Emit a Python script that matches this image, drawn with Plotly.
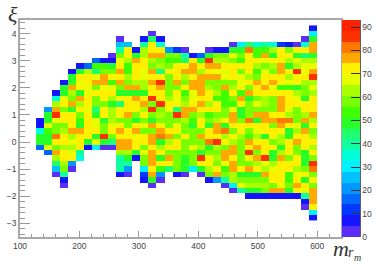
import plotly.graph_objects as go

# Bin layout of the histogram
x_first_edge = 127.0
x_bin = 13.5
y_top_center = 4.2
y_bin = 0.2
n_cols = 35

# Values per row, top row first: (first column, values)
r00 = [(34, [8])]
r01 = [(14, [3]), (34, [28])]
r02 = [(10, [3]), (13, [8, 45, 8]), (33, [3, 50])]
r03 = [(10, [25, 25]), (13, [38, 72, 33]), (24, [3, 30, 43, 33, 38, 36, 10, 8, 3, 33, 77])]
r04 = [(10, [38, 70]), (12, [8, 64, 72, 72, 20, 10, 3]), (21, [3, 8, 8, 50, 50, 80, 52, 55, 63, 74, 60, 70, 70, 77])]
r05 = [(9, [3, 60, 72, 48, 65, 76, 79, 58, 58, 40, 8, 18, 47, 58, 58, 68, 58, 72, 55, 76, 50, 70, 72, 50, 42, 48])]
r06 = [(7, [16, 8, 8, 68, 62, 78, 70, 62, 58, 55, 52, 45, 72, 47, 85, 65, 62, 58, 52, 70, 70, 68, 72, 72, 65, 68, 62, 62])]
r07 = [(5, [8, 16, 55, 55, 47, 70, 52, 72, 72, 60, 62, 60, 70, 72, 76, 70, 77, 79, 72, 72, 72, 70, 65, 60, 62, 76, 48, 62, 66, 66])]
r08 = [(4, [8, 47, 62, 42, 60, 57, 78, 52, 70, 66, 75, 42, 72, 70, 76, 76, 62, 70, 68, 68, 70, 58, 72, 55, 68, 60, 76, 70, 85, 68, 76])]
r09 = [(4, [47, 70, 70, 68, 79, 72, 72, 62, 72, 66, 72, 70, 60, 70, 62, 72, 78, 76, 76, 68, 72, 68, 62, 60, 72, 70, 70, 62, 70, 70, 85])]
r10 = [(3, [8, 50, 68, 70, 76, 76, 55, 76, 58, 62, 65, 76, 84, 58, 78, 60, 76, 76, 58, 58, 58, 60, 68, 72, 76, 72, 75, 70, 68, 72, 62, 62])]
r11 = [(3, [47, 76, 70, 68, 58, 68, 68, 60, 76, 76, 62, 70, 76, 60, 60, 70, 79, 77, 62, 60, 76, 63, 70, 60, 70, 75, 66, 52, 55, 50, 60, 68])]
r12 = [(2, [8, 47, 64, 48, 68, 70, 70, 70, 47, 50, 48, 48, 72, 70, 58, 70, 55, 66, 76, 70, 62, 55, 70, 55, 76, 70, 70, 70, 70, 70, 62, 58, 62])]
r13 = [(2, [33, 66, 60, 76, 70, 58, 70, 62, 70, 72, 76, 70, 87, 72, 62, 68, 60, 68, 72, 70, 55, 52, 60, 78, 50, 60, 63, 58, 78, 70, 68, 50, 70])]
r14 = [(2, [65, 70, 78, 62, 70, 58, 60, 48, 42, 72, 72, 76, 58, 88, 72, 70, 62, 70, 78, 62, 70, 55, 52, 72, 60, 68, 65, 60, 78, 72, 72, 72, 72])]
r15 = [(1, [22, 76, 58, 50, 72, 68, 42, 72, 62, 70, 70, 72, 62, 85, 60, 68, 42, 76, 78, 70, 72, 72, 60, 68, 50, 60, 60, 58, 60, 78, 68, 60, 70, 72])]
r16 = [(1, [47, 85, 70, 72, 60, 70, 47, 70, 62, 70, 76, 60, 70, 60, 62, 60, 84, 76, 58, 62, 55, 58, 60, 76, 50, 60, 76, 76, 72, 72, 62, 60, 65, 76])]
r17 = [(0, [8, 47, 66, 70, 70, 55, 70, 68, 47, 62, 60, 60, 50, 60, 47, 58, 60, 58, 62, 52, 72, 60, 64, 70, 76, 58, 80, 48, 76, 76, 80, 80, 60, 76, 62])]
r18 = [(0, [8, 68, 58, 58, 70, 50, 70, 66, 60, 66, 70, 60, 70, 66, 76, 70, 58, 66, 60, 48, 72, 47, 76, 47, 72, 72, 72, 72, 72, 60, 76, 72, 66, 47, 70])]
r19 = [(0, [33, 55, 58, 62, 76, 76, 72, 70, 60, 72, 76, 70, 76, 60, 58, 76, 72, 70, 58, 60, 60, 70, 78, 80, 60, 72, 60, 68, 70, 72, 72, 48, 62, 76, 60])]
r20 = [(0, [47, 47, 80, 70, 62, 70, 70, 50, 88, 60, 70, 70, 68, 70, 76, 80, 76, 60, 72, 60, 78, 72, 70, 62, 70, 62, 55, 62, 50, 70, 62, 50, 70, 74, 62])]
r21 = [(0, [47, 47, 72, 70, 68, 70, 50, 68, 47, 42, 76, 76, 70, 70, 76, 50, 62, 70, 60, 60, 60, 80, 86, 72, 62, 58, 76, 70, 70, 60, 62, 72, 76, 70, 70])]
r22 = [(0, [18, 66, 58, 62, 64, 70, 8, 30, 3, 3, 76, 76, 72, 60, 70, 65, 70, 72, 60, 66, 62, 47, 64, 58, 76, 60, 70, 76, 70, 70, 47, 70, 60, 70, 62])]
r23 = [(1, [18, 76, 70, 68, 40]), (10, [62, 62, 47, 66, 76, 70, 58, 60, 60, 60, 47, 60, 60, 76, 76, 60, 86, 58, 70, 50, 65, 70, 60, 47, 70])]
r24 = [(2, [62, 70, 70, 33]), (10, [40, 47, 8, 60, 76, 47, 76, 58, 47, 60, 85, 72, 62, 76, 70, 60, 70, 78, 85, 48, 76, 60, 70, 50, 60])]
r25 = [(2, [42, 62, 20]), (10, [38, 38]), (13, [60, 76, 70, 70, 60, 50, 60, 70, 70, 60, 68, 76, 60, 60, 62, 66, 62, 70, 72, 72, 47, 86])]
r26 = [(2, [24, 58, 3]), (10, [38, 20]), (13, [32, 70, 55, 42, 60, 50, 30, 48, 62, 70, 52, 76, 72, 78, 70, 62, 68, 70, 72, 62, 60, 80])]
r27 = [(2, [3, 40]), (10, [8, 3]), (13, [10, 78, 22]), (17, [8, 3]), (20, [3, 58, 76, 60, 62, 47, 47, 47, 76, 70, 70, 55, 68, 72, 60])]
r28 = [(3, [8]), (13, [8, 47, 3]), (21, [8, 20, 38, 62, 58, 60, 60, 60, 72, 72, 55, 70, 48, 70])]
r29 = [(3, [3]), (14, [3]), (23, [3, 30, 66, 62, 62, 62, 60, 68, 60, 76, 70, 60])]
r30 = [(24, [3, 38, 47, 47, 60, 78, 78, 47, 70, 68, 76])]
r31 = [(26, [8, 8, 8, 8, 8, 8, 8, 40, 76])]
r32 = [(33, [8, 79])]
r33 = [(33, [3, 72])]
r34 = [(34, [32])]
r35 = [(34, [8])]

rows = [r00, r01, r02, r03, r04, r05, r06, r07, r08, r09, r10, r11, r12, r13, r14, r15, r16, r17,
        r18, r19, r20, r21, r22, r23, r24, r25, r26, r27, r28, r29, r30, r31, r32, r33, r34, r35]

z = []
for row in rows:
    line = [None] * n_cols
    for start, vals in row:
        for i, v in enumerate(vals):
            line[start + i] = v
    z.append(line)
z.reverse()

x_centers = [x_first_edge + x_bin * (i + 0.5) for i in range(n_cols)]
y_centers = [y_top_center - y_bin * (len(rows) - 1 - i) for i in range(len(rows))]

# Discrete palette (20 contour bands)
zmax = 93.0
band_colors = ["#5a2ef5", "#1414ff", "#0038ff", "#0068ff", "#0098ff", "#00c0ff", "#00f0ff", "#00ffd8",
               "#10ffa0", "#20ff70", "#28ff28", "#40ff00", "#78ff00", "#a8ff00", "#e8ff00", "#fff000",
               "#ffa800", "#ff7800", "#ff3000", "#ff2000"]
scale = []
n = len(band_colors)
for i, c in enumerate(band_colors):
    scale.append([i / n, c])
    scale.append([(i + 1) / n, c])

W, H = 382, 266
L, R, T, B = 19.5, 341.5, 20, 237
PW, PH = R - L, B - T


def px(x):
    return (x - L) / PW


def py(y):
    return (B - y) / PH


axis_color = "#a8a8a8"
tick_font = dict(family="Liberation Sans, Arial, sans-serif", size=8.5, color="#444444")

fig = go.Figure(go.Heatmap(
    x=x_centers, y=y_centers, z=z, zmin=0, zmax=zmax, colorscale=scale, hoverongaps=False,
    xgap=0, ygap=0,
    colorbar=dict(
        x=px(343), xanchor="left", xref="paper", y=0, yanchor="bottom", yref="paper",
        len=1, lenmode="fraction", thickness=18, thicknessmode="pixels", xpad=0, ypad=0,
        outlinewidth=0, tickmode="linear", tick0=0, dtick=10, ticks="inside", ticklen=9,
        tickcolor="#333333", tickwidth=1, tickfont=tick_font,
    ),
))

fig.update_layout(
    width=W, height=H, paper_bgcolor="white", plot_bgcolor="white",
    margin=dict(l=L, r=W - R, t=T, b=H - B, pad=0, autoexpand=False),
    xaxis=dict(range=[100, 640], tickmode="linear", tick0=100, dtick=100, ticks="inside", ticklen=6,
               tickcolor="#999999", tickwidth=1, showgrid=False, zeroline=False, showline=True, automargin=False,
               linecolor=axis_color, linewidth=1.5, mirror=True, tickfont=tick_font,
               minor=dict(dtick=20, tick0=100, ticks="inside", ticklen=3, tickcolor="#999999", showgrid=False)),
    yaxis=dict(range=[-3.5, 4.5], tickmode="linear", tick0=0, dtick=1, ticks="inside", ticklen=10,
               tickcolor="#999999", tickwidth=1, showgrid=False, zeroline=False, showline=True, automargin=False,
               linecolor=axis_color, linewidth=1.5, mirror=True, tickfont=tick_font,
               minor=dict(dtick=0.2, tick0=0, ticks="inside", ticklen=5, tickcolor="#999999", showgrid=False)),
)

# Dark axis line on the right edge of the colour bar
fig.add_shape(type="line", xref="paper", yref="paper", x0=px(361), x1=px(361), y0=0, y1=1,
              line=dict(color="#555555", width=1))

serif = "Liberation Serif, serif"
labels = [("ξ", 5, 15, 22), ("m", 331, 248.5, 22), ("r", 347, 253, 14), ("m", 353, 257, 10)]
for text, xp, yp, size in labels:
    fig.add_annotation(text=f"<i>{text}</i>", xref="paper", yref="paper", x=px(xp), y=py(yp),
                       xanchor="left", yanchor="middle", showarrow=False,
                       font=dict(family=serif, size=size, color="#333333"))

fig.write_html("out.html", config=dict(displayModeBar=False),
               post_script="document.body.style.margin='0';")
